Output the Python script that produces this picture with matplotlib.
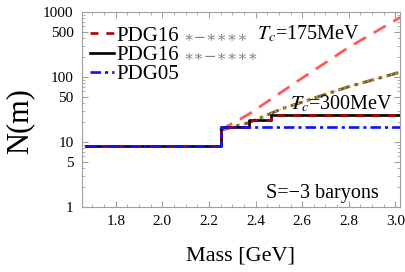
import matplotlib
matplotlib.use("Agg")
import matplotlib.pyplot as plt
from matplotlib.ticker import MultipleLocator, LogLocator, FixedLocator, NullFormatter

plt.rcParams['font.family'] = ['Liberation Serif', 'DejaVu Serif']
plt.rcParams['mathtext.fontset'] = 'stix'

# step spectra (mass in GeV, cumulative number of states)
m_16_1 = [1.672, 2.25, 2.25, 2.372, 2.372, 2.465, 2.465, 3.03]
n_16_1 = [8.6, 8.6, 17.2, 17.2, 21.7, 21.7, 26.0, 26.0]
m_16_2 = [1.672, 2.25, 2.25, 2.372, 2.372, 2.465, 2.465, 3.03]
n_16_2 = [8.6, 8.6, 17.2, 17.2, 21.7, 21.7, 26.0, 26.0]
m_05 = [1.672, 2.25, 2.25, 3.03]
n_05 = [8.6, 8.6, 17.2, 17.2]

# Hagedorn fits
m_t175 = [2.247, 2.369, 2.584, 2.799, 3.021]
n_t175 = [15.1, 26.5, 88, 285, 826]
m_t300 = [2.247, 2.369, 2.513, 2.799, 3.021]
n_t300 = [15.1, 19.7, 32.4, 70.8, 119]

xticks = [1.8, 2.0, 2.2, 2.4, 2.6, 2.8, 3.0]
yticks = [1, 5, 10, 50, 100, 500, 1000]

fig = plt.figure(figsize=(4.05, 2.72), dpi=100)
ax = fig.add_axes([82/405, 1-207/272, 318/405, 195/272])

ax.plot(m_t175, n_t175, color='#ff5a5a', lw=2, dashes=(5, 3.2))
ax.plot(m_t300, n_t300, color='#7d5c35', lw=2.2, dashes=(4, 1.5, 1.2, 1.5))
ax.plot(m_t300, n_t300, color='#d6d600', lw=1.0, dashes=(1, 2.5))

l_black, = ax.plot(m_16_2, n_16_2, color='black', lw=1.9)
l_red, = ax.plot(m_16_1, n_16_1, color='#b00000', lw=1.9, dashes=(3, 3))
l_blue, = ax.plot(m_05, n_05, color='#1010ff', lw=1.9, dashes=(4, 1.5, 1.2, 1.5))

ax.set_yscale('log')
ax.set_xlim(1.655, 3.02)
ax.set_ylim(1, 1000)
ax.xaxis.set_major_locator(FixedLocator(xticks))
ax.xaxis.set_minor_locator(MultipleLocator(0.05))
ax.yaxis.set_major_locator(FixedLocator(yticks))
ax.yaxis.set_minor_locator(LogLocator(subs=[2, 3, 4, 6, 7, 8, 9]))
ax.yaxis.set_minor_formatter(NullFormatter())
ax.set_yticklabels([str(v) for v in yticks])
ax.set_xticklabels(['%.1f' % v for v in xticks])

for s in ax.spines.values():
    s.set_color('#a0a0a0')
    s.set_linewidth(0.8)
ax.tick_params(which='both', direction='in', top=True, right=True, color='#a0a0a0', labelsize=11)
ax.tick_params(which='major', length=4, pad=6)
ax.tick_params(which='minor', length=2)

ax.set_xlabel('Mass [GeV]', fontsize=16, labelpad=13)
ax.set_ylabel('N(m)', fontsize=22)
ax.yaxis.set_label_coords(-0.15, 0.44)

leg = ax.legend([l_red, l_black, l_blue], ['PDG16', 'PDG16', 'PDG05'],
                loc='upper left', frameon=False, fontsize=15, handlelength=1.15,
                handletextpad=0.1, labelspacing=-0.02, borderaxespad=0.0,
                bbox_to_anchor=(0.0, 0.97))

ax.text(0.55, 0.885, r'$T_c$=175MeV', transform=ax.transAxes, fontsize=14.5, va='center')
ax.text(0.655, 0.53, r'$T_c$=300MeV', transform=ax.transAxes, fontsize=14.5, va='center')
ax.text(0.58, 0.07, 'S=−3 baryons', transform=ax.transAxes, fontsize=14.5, va='center')

fig.canvas.draw()
stars = ['∗−∗∗∗∗', '∗∗−∗∗∗∗']
inv = ax.transAxes.inverted()
for txt, st in zip(leg.get_texts()[:2], stars):
    bb = txt.get_window_extent()
    x0, y0 = inv.transform((bb.x1 + 4, (bb.y0 + bb.y1) / 2 - 1))
    ax.text(x0, y0, st, transform=ax.transAxes, fontsize=11, color='#808080',
            va='center', family=['DejaVu Serif'])

fig.savefig('out.png', dpi=100)
